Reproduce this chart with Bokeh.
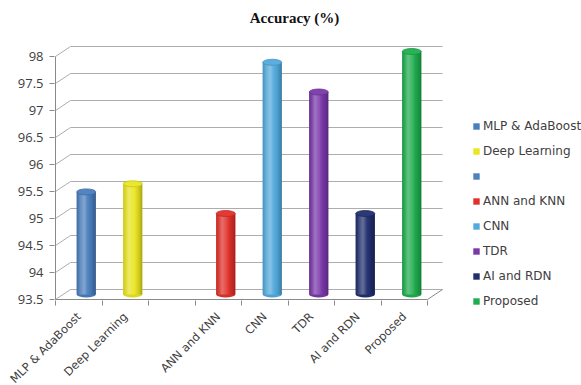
import math
from bokeh.plotting import figure
from bokeh.models import (Range1d, FixedTicker, ColumnDataSource, Label, Legend,
                          LegendItem, NumeralTickFormatter)
from bokeh.embed import file_html
from bokeh.resources import INLINE

# ---- data -------------------------------------------------------------
methods = ["MLP & AdaBoost", "Deep Learning", "", "ANN and KNN", "CNN", "TDR",
           "AI and RDN", "Proposed"]
accuracy = [95.4, 95.55, None, 95.0, 97.8, 97.25, 95.0, 98.0]
y_ticks = [93.5, 94.0, 94.5, 95.0, 95.5, 96.0, 96.5, 97.0, 97.5, 98.0]
palette = ["#4a7ebf", "#ebe620", "#4f81bd", "#e2302a", "#52abde", "#7a38aa",
           "#202f6e", "#1fae4f"]
title_text = "Accuracy (%)"

# ---- geometry (pixels) -----------------------------------------------
W, H = 581, 385
Y0, Y1 = y_ticks[0], y_ticks[-1]
N = len(methods)
PX_X = 46.5          # px per category slot
PX_Y = 54.0          # px per accuracy point
DEPTH_X, DEPTH_Y = 15.0, 10.0   # 3-D depth offset
PAD = 1.0
LEFT = 54            # canvas x of the frame's left edge
RIGHT = 471          # canvas x of the frame's right edge (legend starts here)
BOTTOM = 300         # canvas y of the frame's bottom edge

dx = DEPTH_X / PX_X
dy = DEPTH_Y / PX_Y
frame_w = RIGHT - LEFT
frame_h = BOTTOM
x_start = -PAD / PX_X
x_end = x_start + frame_w / PX_X
y_start = Y0 - PAD / PX_Y
y_end = y_start + frame_h / PX_Y

p = figure(frame_width=frame_w, frame_height=frame_h,
           x_range=Range1d(x_start, x_end), y_range=Range1d(y_start, y_end),
           min_border_left=LEFT, min_border_top=0,
           min_border_right=W - RIGHT, min_border_bottom=H - BOTTOM,
           output_backend="svg", toolbar_location=None)
p.outline_line_color = None
p.background_fill_color = "white"
p.border_fill_color = "white"
p.xgrid.visible = False
p.ygrid.visible = False

GRID = "#adadad"
AXIS = "#8a8a8a"
TEXT = "#404040"

# ---- walls: side wall, back wall and floor -----------------------------
p.segment(x0=[0.0] * len(y_ticks), y0=y_ticks,
          x1=[dx] * len(y_ticks), y1=[v + dy for v in y_ticks],
          line_color=GRID, line_width=1)
p.segment(x0=[dx] * len(y_ticks), y0=[v + dy for v in y_ticks],
          x1=[N + dx] * len(y_ticks), y1=[v + dy for v in y_ticks],
          line_color=GRID, line_width=1)
p.segment(x0=[0, 0, N], y0=[Y0, Y0, Y0], x1=[0, N, N + dx], y1=[Y1, Y0, Y0 + dy],
          line_color=AXIS, line_width=1)

# ---- cylinders --------------------------------------------------------
def _rgb(h):
    h = h.lstrip("#")
    return [int(h[i:i + 2], 16) for i in (0, 2, 4)]

def _hex(c):
    return "#%02x%02x%02x" % tuple(max(0, min(255, int(round(v)))) for v in c)

def mix(h, target, a):
    c = _rgb(h)
    t = (255, 255, 255) if target == "white" else (0, 0, 0)
    return _hex([c[i] * (1 - a) + t[i] * a for i in range(3)])

def shade(h, t):
    hi = 0.30 * math.exp(-((t + 0.3) / 0.42) ** 2)
    lo = (0.30 if t > 0 else 0.14) * abs(t) ** 2.2
    return mix(mix(h, "white", hi), "black", lo)

BAR_W = 19.0 / PX_X
N_STRIPS = 16
body = dict(x=[], w=[], top=[], bottom=[], color=[])
caps = dict(x=[], y=[], fill=[], line=[])
bases = dict(x=[], y=[], fill=[])
for i, v in enumerate(accuracy):
    if v is None:
        continue
    cx = i + 0.5 + dx / 2
    bot = Y0 + dy / 2
    top = v + dy / 2
    base = palette[i]
    # full-width underlay so strip seams never show white
    body["x"].append(cx); body["w"].append(BAR_W)
    body["top"].append(top); body["bottom"].append(bot)
    body["color"].append(shade(base, 0.6))
    sw = BAR_W / N_STRIPS
    for k in range(N_STRIPS):
        t = -1 + (2 * k + 1) / N_STRIPS
        body["x"].append(cx - BAR_W / 2 + (k + 0.5) * sw)
        body["w"].append(sw * (1.25 if 0 < k < N_STRIPS - 1 else 1.0))
        body["top"].append(top); body["bottom"].append(bot)
        body["color"].append(shade(base, t))
    caps["x"].append(cx); caps["y"].append(top)
    caps["fill"].append(mix(base, "white", 0.05))
    caps["line"].append(mix(base, "black", 0.15))
    bases["x"].append(cx); bases["y"].append(bot)
    bases["fill"].append(shade(base, 0.5))

p.ellipse(x="x", y="y", width=BAR_W, height=6, height_units="screen",
          fill_color="fill", line_color=None, source=ColumnDataSource(bases))
p.vbar(x="x", width="w", top="top", bottom="bottom", fill_color="color",
       line_color=None, source=ColumnDataSource(body))
p.ellipse(x="x", y="y", width=BAR_W, height=6, height_units="screen",
          fill_color="fill", line_color="line", line_width=0.8,
          source=ColumnDataSource(caps))

# ---- axes ---------------------------------------------------------------
p.yaxis.ticker = FixedTicker(ticks=y_ticks)
p.yaxis.formatter = NumeralTickFormatter(format="0.[0]")
p.yaxis.axis_line_color = None
p.yaxis.major_tick_in = 0
p.yaxis.major_tick_out = 5
p.yaxis.major_tick_line_color = AXIS
p.yaxis.minor_tick_line_color = None
p.yaxis.major_label_standoff = 6
p.yaxis.major_label_text_font = "Open Sans"
p.yaxis.major_label_text_font_size = "13px"
p.yaxis.major_label_text_color = TEXT

centers = [i + 0.5 for i in range(N)]
p.xaxis.ticker = FixedTicker(ticks=centers, minor_ticks=list(range(N + 1)))
p.xaxis.major_label_overrides = {c: m for c, m in zip(centers, methods)}
p.xaxis.axis_line_color = None
p.xaxis.major_tick_line_color = None
p.xaxis.minor_tick_in = 0
p.xaxis.minor_tick_out = 5
p.xaxis.minor_tick_line_color = AXIS
p.xaxis.major_label_orientation = math.pi / 4
p.xaxis.major_label_standoff = 8
p.xaxis.major_label_text_font = "DejaVu Sans"
p.xaxis.major_label_text_font_size = "11.5px"
p.xaxis.major_label_text_color = TEXT

# ---- title -------------------------------------------------------------
p.add_layout(Label(x=x_start + (294 - LEFT) / PX_X, y=y_end - 17 / PX_Y,
                   text=title_text, text_align="center", text_baseline="middle",
                   text_font="Liberation Serif", text_font_style="bold",
                   text_font_size="15px", text_color="#111111"))

# ---- legend (right-hand panel) -----------------------------------------
leg_src = ColumnDataSource(dict(x=centers, y=[Y0] * N, color=palette))
leg_r = p.vbar(x="x", width=0.001, top="y", bottom="y", fill_color="color",
               line_color=None, source=leg_src)
items = [LegendItem(label=(m if m else " "), renderers=[leg_r], index=i)
         for i, m in enumerate(methods)]
LEG_ITEM_H, LEG_GAP = 17, 8
legend = Legend(items=items,
                location=(1, BOTTOM - (301 + LEG_ITEM_H / 2)),
                orientation="vertical",
                glyph_width=8, glyph_height=8, label_height=LEG_ITEM_H,
                spacing=LEG_GAP, label_standoff=3, padding=0, margin=0,
                border_line_color=None, background_fill_alpha=0,
                label_text_font="DejaVu Sans", label_text_font_size="12px",
                label_text_color=TEXT)
p.add_layout(legend, "right")

open("out.html", "w").write(file_html(p, INLINE))
